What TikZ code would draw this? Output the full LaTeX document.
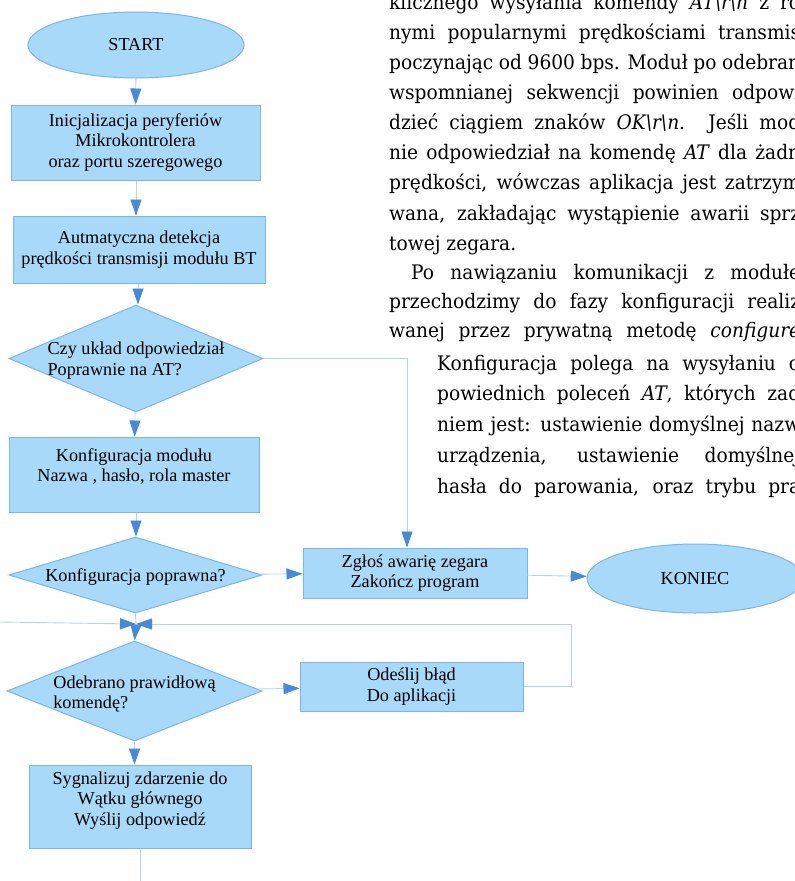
\documentclass[tikz,border=0pt]{standalone}
\usepackage{fontspec}
\usepackage{xcolor}
\usepackage{tikz}
\usetikzlibrary{arrows.meta, positioning, shapes.geometric, calc}
\newfontfamily\chartfont{Liberation Serif}
\newfontfamily\bodyfont[FakeStretch=0.93]{DejaVu Serif}
\newcommand{\chartsize}{\chartfont\fontsize{18.2pt}{20.5pt}\selectfont}
\newcommand{\bodysize}{\bodyfont\fontsize{20pt}{30pt}\selectfont}
\newcommand{\fillline}[2]{\makebox[#1][s]{#2}}
\newcommand{\bs}{\textbackslash}
\definecolor{boxfill}{RGB}{169, 217, 249}
\definecolor{boxline}{RGB}{122, 181, 235}
\definecolor{tipblue}{RGB}{72, 137, 216}
\definecolor{linkblue}{RGB}{178, 213, 242}

\begin{document}
\begin{tikzpicture}[x=1pt, y=-1pt,
    terminal/.style={ellipse, draw=boxline, fill=boxfill, line width=1pt, inner sep=0pt, minimum width=216pt, font=\chartsize},
    process/.style={rectangle, draw=boxline, fill=boxfill, line width=1pt, inner sep=0pt, align=center, font=\chartsize},
    decision/.style={diamond, draw=boxline, fill=boxfill, line width=1pt, inner sep=0pt},
    qtext/.style={align=left, inner sep=0pt, font=\chartsize},
    btext/.style={align=center, inner sep=0pt, font=\chartsize, yshift=8pt},
    link/.style={draw=linkblue, line width=0.9pt},
    flow/.style={link, -{Triangle[length=16pt, width=11pt, color=tipblue]}},
    pagetext/.style={anchor=base west, inner sep=0pt, font=\bodysize}]
    \useasboundingbox (0,0) rectangle (795,881);

    % flowchart
    \node[terminal, minimum height=66pt] (start) at (136,45) {START};
    \node[process, minimum width=249pt, minimum height=75pt] (init) at (135.5,142.5) {Inicjalizacja peryferiów\\Mikrokontrolera\\oraz portu szeregowego};
    \node[process, minimum width=252pt, minimum height=67pt] (detect) at (139,249.5) {Autmatyczna detekcja\\prędkości transmisji modułu BT};
    \node[decision, minimum width=254pt, minimum height=107pt, label={[qtext, yshift=-2pt]center:Czy układ odpowiedział\\Poprawnie na AT?}] (ask) at (136,358.5) {};
    \node[process, minimum width=250pt, minimum height=75pt, label={[btext]center:Konfiguracja modułu\\Nazwa , hasło, rola master}] (config) at (134,474.5) {};
    \node[decision, minimum width=253pt, minimum height=76pt, label={[qtext, yshift=-2pt]center:Konfiguracja poprawna?}] (check) at (135.5,575) {};
    \node[process, minimum width=224pt, minimum height=50pt] (report) at (415,573) {Zgłoś awarię zegara\\Zakończ program};
    \node[terminal, minimum height=69pt] (koniec) at (695,578.5) {KONIEC};
    \coordinate (merge) at (136,624);
    \coordinate (loopin) at (0,622);
    \node[decision, minimum width=255pt, minimum height=100pt, label={[qtext, yshift=-3pt]center:Odebrano prawidłową\\komendę?}] (received) at (134.5,691) {};
    \node[process, minimum width=223pt, minimum height=49pt] (senderr) at (411.5,686.5) {Odeślij błąd\\Do aplikacji};
    \node[process, minimum width=222pt, minimum height=83pt, label={[btext, yshift=-2pt]center:Sygnalizuj zdarzenie do\\Wątku głównego\\Wyślij odpowiedź}] (signal) at (140,806.5) {};
    \coordinate (pageend) at (140,881);

    \draw[flow] (start) -- (init);
    \draw[flow] (init.south -| 136,0) -- (detect.north -| 136,0);
    \draw[flow] (detect.south -| 138,0) -- (ask.north -| 138,0);
    \draw[flow] (ask.east) -| ([xshift=-8pt]report.north);
    \draw[flow] (ask) -- (config);
    \draw[flow] (config.south -| 136,0) -- (check.north -| 136,0);
    \draw[flow] (check) -- (report);
    \draw[flow] (report) -- (koniec);
    \draw[link] (check.south) -- (merge);
    \draw[flow] (loopin) -- (merge);
    \draw[flow] (senderr.east) -- ++(48,0) |- (merge);
    \draw[flow] (merge) -- (received.north);
    \draw[flow] (received) -- (senderr);
    \draw[flow] (received.south) -- (received.south |- signal.north);
    \draw[link] (signal.south) -- (pageend);

    % page text beside the chart
    \node[pagetext] (par1) at (389,9) {\fillline{411pt}{klicznego wysyłania komendy \textit{AT\bs r\bs n} z ro}};
    \node[pagetext] (par2) at (389,39) {\fillline{411pt}{nymi popularnymi prędkościami transmis}};
    \node[pagetext] (par3) at (389,69) {\fillline{411pt}{poczynając od 9600 bps. Moduł po odebran}};
    \node[pagetext] (par4) at (389,99) {\fillline{411pt}{wspomnianej sekwencji powinien odpowi}};
    \node[pagetext] (par5) at (389,129) {\fillline{411pt}{dzieć ciągiem znaków \textit{OK\bs r\bs n}. Jeśli mod}};
    \node[pagetext] (par6) at (389,159) {\fillline{411pt}{nie odpowiedział na komendę \textit{AT} dla żadn}};
    \node[pagetext] (par7) at (389,189) {\fillline{411pt}{prędkości, wówczas aplikacja jest zatrzym}};
    \node[pagetext] (par8) at (389,220) {\fillline{411pt}{wana, zakładając wystąpienie awarii sprz}};
    \node[pagetext] (par9) at (389,250) {towej zegara.};
    \node[pagetext] (par10) at (411,279) {\fillline{389pt}{Po nawiązaniu komunikacji z modułe}};
    \node[pagetext] (par11) at (389,308) {\fillline{411pt}{przechodzimy do fazy konfiguracji realiz}};
    \node[pagetext] (par12) at (389,337) {\fillline{411pt}{wanej przez prywatną metodę \textit{configure}}};
    \node[pagetext] (par13) at (437,370) {\fillline{363pt}{Konfiguracja polega na wysyłaniu o}};
    \node[pagetext] (par14) at (437,400) {\fillline{363pt}{powiednich poleceń \textit{AT}, których zad}};
    \node[pagetext] (par15) at (437,431) {\fillline{363pt}{niem jest: ustawienie domyślnej nazw}};
    \node[pagetext] (par16) at (437,462) {\fillline{363pt}{urządzenia, ustawienie domyślnej}};
    \node[pagetext] (par17) at (437,493) {\fillline{363pt}{hasła do parowania, oraz trybu pra}};
\end{tikzpicture}
\end{document}
